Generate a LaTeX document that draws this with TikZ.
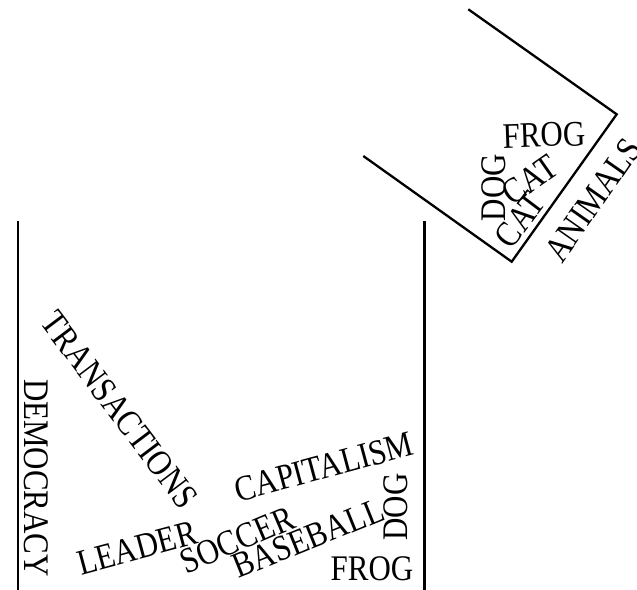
\documentclass[tikz,border=0pt]{standalone}
\usepackage{fontspec}
\setmainfont[FakeStretch=0.86]{Liberation Serif}
\begin{document}
\begin{tikzpicture}[x=1pt,y=-1pt,
  word/.style={inner sep=0pt, font=\fontsize{36}{40}\selectfont},
  binline/.style={line width=2.3pt, line join=miter}]
\useasboundingbox (0,0) rectangle (637,589);
% main bin
\draw[binline] (18,221) -- (18,600);
\draw[binline] (424.5,221) -- (424.5,600);
% rotated bin
\draw[binline] (468.3,9.3) -- (616.7,114.3) -- (511.7,261.7) -- (363.3,156);
% words in main bin
\node[word, rotate=-90] (democracy) at (36.5,478) {DEMOCRACY};
\node[word, rotate=-53] (transactions) at (119.5,410) {TRANSACTIONS};
\node[word, rotate=15] (leader) at (137,548) {LEADER};
\node[word, rotate=23] (soccer) at (237,540) {SOCCER};
\node[word, rotate=15] (capitalism) at (324,467) {CAPITALISM};
\node[word, rotate=22] (baseball) at (308,538) {BASEBALL};
\node[word, rotate=90] (dogA) at (396,507) {DOG};
\node[word] (frogA) at (372,569) {FROG};
% words in rotated bin
\node[word, rotate=2] (frogB) at (544,135) {FROG};
\node[word, rotate=90] (dogB) at (493.5,187.5) {DOG};
\node[word, rotate=35] (catA) at (530,180) {CAT};
\node[word, rotate=53] (catB) at (520,220) {CAT};
\node[word, rotate=55] (animals) at (593,200) {ANIMALS};
\end{tikzpicture}
\end{document}
